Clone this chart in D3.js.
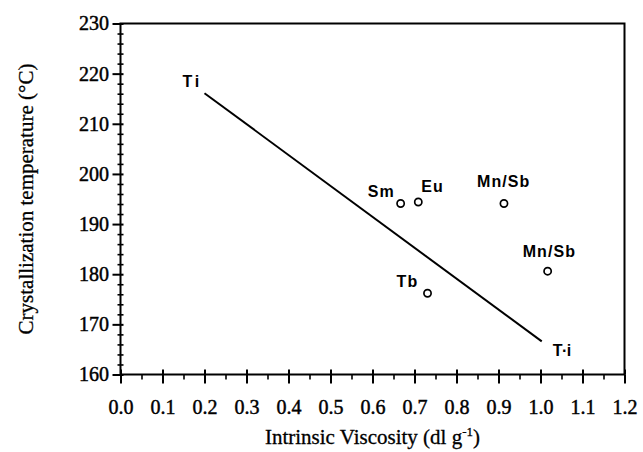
<!DOCTYPE html>
<html>
<head>
<meta charset="utf-8">
<script src="https://cdn.jsdelivr.net/npm/d3@7"></script>
<style>
  body { margin: 0; background: #fff; }
  svg { display: block; }
</style>
</head>
<body>
<div id="chart"></div>
<script>
// values
const sampleNames = ["Sm", "Eu", "Mn/Sb", "Mn/Sb", "Tb"];
const sampleViscosity = [0.667, 0.709, 0.913, 1.017, 0.731];
const sampleTemp = [194.1, 194.4, 194.1, 180.6, 176.2];

const lineNames = ["T i", "T·i"];
const lineViscosity = [0.2, 1.003];
const lineTemp = [216.1, 166.6];

const xMajor = [0, 0.1, 0.2, 0.3, 0.4, 0.5, 0.6, 0.7, 0.8, 0.9, 1.0, 1.1, 1.2];
const yMajor = [160, 170, 180, 190, 200, 210, 220, 230];

const W = 643, H = 452;
const padL = 120.5, padR = 624.5, padT = 23.5, padB = 374.5;

const svg = d3.select("#chart")
  .append("svg")
    .attr("width", W)
    .attr("height", H)

const x = d3.scaleLinear().domain([0, 1.2]).range([padL, padR])
const y = d3.scaleLinear().domain([160, 230]).range([padB, padT])

const xMinor = d3.range(0.05, 1.2, 0.1)
const yMinor = d3.range(160, 230, 2).filter(v => v % 10 != 0)

const serif = "'Liberation Serif', 'DejaVu Serif', serif"
const sans = "'Liberation Sans', Arial, sans-serif"

function styleAxis(g, sw) {
  g.select(".domain").remove()
  g.selectAll(".tick line").attr("stroke", "#000").attr("stroke-width", sw)
  g.selectAll("text").attr("fill", "#000").attr("font-family", serif).attr("font-size", 20)
    .attr("stroke", "#000").attr("stroke-width", 0.45)
}

// frame
svg.append("rect")
  .attr("x", padL).attr("y", padT)
  .attr("width", padR - padL).attr("height", padB - padT)
  .attr("fill", "none").attr("stroke", "#000").attr("stroke-width", 2)

// y axis
svg.append("g").attr("transform", `translate(${padL},0)`)
  .call(d3.axisLeft(y).tickValues(yMajor).tickSize(8).tickPadding(3.5).tickFormat(d3.format("d")))
  .call(g => styleAxis(g, 2))
svg.append("g").attr("transform", `translate(${padL},0)`)
  .call(d3.axisRight(y).tickValues(yMajor).tickSize(3).tickFormat(""))
  .call(g => styleAxis(g, 2))
svg.append("g").attr("transform", `translate(${padL},0)`)
  .call(d3.axisLeft(y).tickValues(yMinor).tickSize(3).tickFormat(""))
  .call(g => styleAxis(g, 1.6))
svg.append("g").attr("transform", `translate(${padL},0)`)
  .call(d3.axisRight(y).tickValues(yMinor).tickSize(3).tickFormat(""))
  .call(g => styleAxis(g, 1.6))

// x axis
svg.append("g").attr("transform", `translate(0,${padB})`)
  .call(d3.axisBottom(x).tickValues(xMajor).tickSize(9).tickPadding(16).tickFormat(d3.format(".1f")))
  .call(g => styleAxis(g, 2))
svg.append("g").attr("transform", `translate(0,${padB})`)
  .call(d3.axisTop(x).tickValues(xMajor).tickSize(5).tickFormat(""))
  .call(g => styleAxis(g, 2))
svg.append("g").attr("transform", `translate(0,${padB})`)
  .call(d3.axisBottom(x).tickValues(xMinor).tickSize(5).tickFormat(""))
  .call(g => styleAxis(g, 1.6))

// axis titles
const xt = svg.append("text")
  .attr("x", (padL + padR) / 2).attr("y", 444)
  .attr("text-anchor", "middle")
  .attr("font-family", serif).attr("font-size", 21)
  .attr("stroke", "#000").attr("stroke-width", 0.3)
xt.append("tspan").text("Intrinsic Viscosity (dl g")
xt.append("tspan").attr("dy", -8).attr("font-size", 13).text("-1")
xt.append("tspan").attr("dy", 8).text(")")

svg.append("text")
  .attr("transform", `translate(33,${(padT + padB) / 2}) rotate(-90)`)
  .attr("text-anchor", "middle")
  .attr("font-family", serif).attr("font-size", 21)
  .attr("stroke", "#000").attr("stroke-width", 0.3)
  .text("Crystallization temperature (°C)")

// fitted line
const lineData = lineViscosity.map((v, i) => [v, lineTemp[i]])
svg.append("path")
  .datum(lineData)
  .attr("d", d3.line().x(d => x(d[0])).y(d => y(d[1])))
  .attr("stroke", "#000").attr("stroke-width", 2).attr("fill", "none")

svg.selectAll(".linelabel")
  .data(lineNames)
  .enter()
  .append("text")
    .attr("x", (d, i) => x(lineViscosity[i]) + (i == 0 ? -22 : 11))
    .attr("y", (d, i) => y(lineTemp[i]) + (i == 0 ? -6 : 15))
    .attr("font-family", sans).attr("font-size", 16).attr("font-weight", "bold")
    .attr("letter-spacing", (d, i) => i == 0 ? -1 : -0.5)
    .text(d => d)

// samples
const pts = sampleNames.map((n, i) => ({ name: n, v: sampleViscosity[i], t: sampleTemp[i] }))

svg.selectAll("circle")
  .data(pts)
  .enter()
  .append("circle")
    .attr("cx", d => x(d.v))
    .attr("cy", d => y(d.t))
    .attr("r", 3.6)
    .attr("fill", "none").attr("stroke", "#000").attr("stroke-width", 1.7)

// label offsets from each circle (dx, dy)
const labelOffset = [[-33, -7], [3, -10], [-27, -17], [-25, -14], [-31, -6]]

svg.selectAll(".ptlabel")
  .data(pts)
  .enter()
  .append("text")
    .attr("x", (d, i) => x(d.v) + labelOffset[i][0])
    .attr("y", (d, i) => y(d.t) + labelOffset[i][1])
    .attr("font-family", sans).attr("font-size", 16).attr("font-weight", "bold")
    .attr("letter-spacing", 1.1)
    .text(d => d.name)
</script>
</body>
</html>
